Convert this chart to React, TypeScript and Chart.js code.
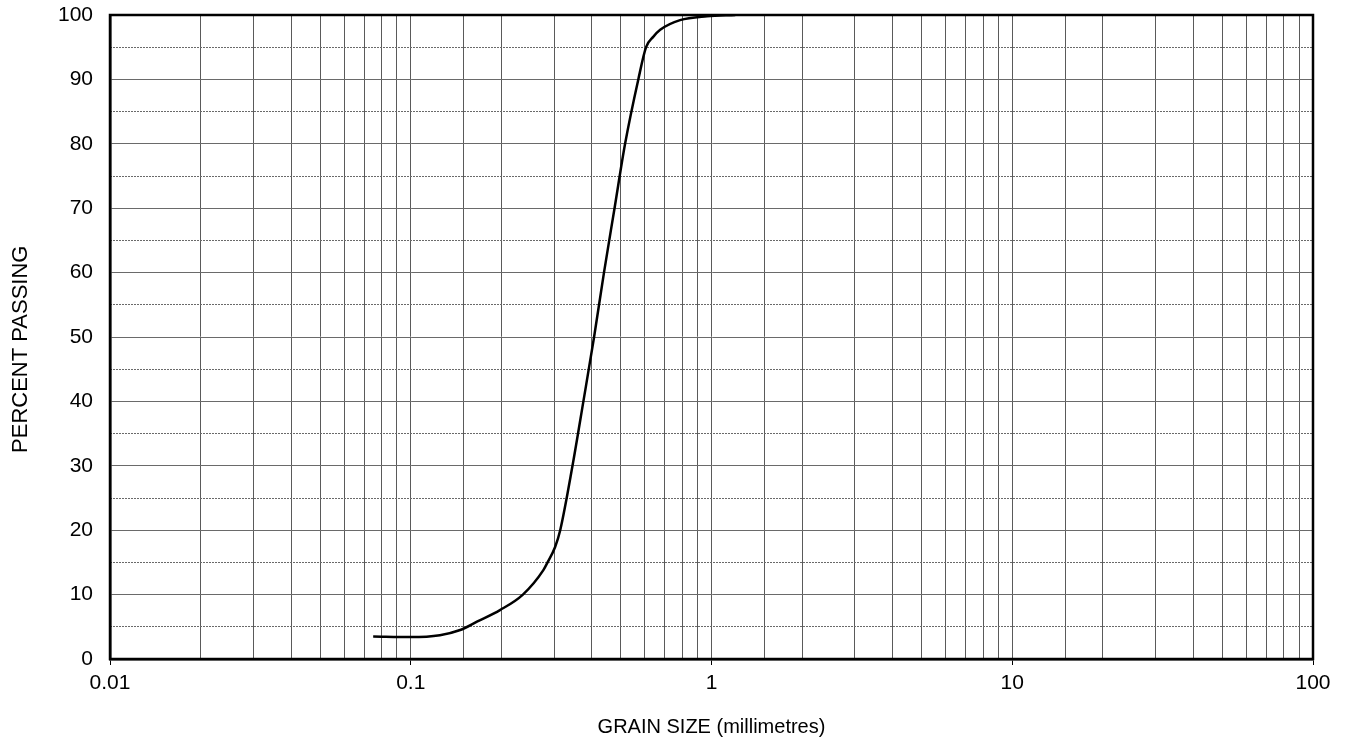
import React, { useEffect, useRef } from "react";
import { Chart, registerables } from "chart.js";

Chart.register(...registerables);

// Grain size distribution (sieve analysis)
const grainSize = [
  0.075, 0.1, 0.125, 0.146, 0.166, 0.198, 0.236, 0.276, 0.285, 0.302, 0.314,
  0.345, 0.375, 0.407, 0.439, 0.476, 0.516, 0.571, 0.606, 0.64, 0.675, 0.786,
  0.966, 1.2,
];
const percentPassing = [
  3.5, 3.4, 3.7, 4.5, 5.8, 7.6, 10.0, 13.8, 15.0, 17.4, 20.0, 30.0, 40.0, 50.0,
  60.0, 70.0, 80.0, 90.0, 95.0, 96.6, 97.7, 99.2, 99.8, 100,
];
const halfGridValues = [5, 15, 25, 35, 45, 55, 65, 75, 85, 95];

const xTitle = "GRAIN SIZE (millimetres)";
const yTitle = "PERCENT PASSING    ";

const FONT = "'Liberation Sans', Arial, sans-serif";

const framePlugin = {
  id: "frame",
  afterDraw(chart: any) {
    const { ctx, chartArea } = chart;
    ctx.save();
    ctx.strokeStyle = "#000";
    ctx.lineWidth = 2.5;
    ctx.strokeRect(
      chartArea.left,
      chartArea.top,
      chartArea.right - chartArea.left,
      chartArea.bottom - chartArea.top
    );
    ctx.restore();
  },
};

export default function App() {
  const ref = useRef<HTMLCanvasElement | null>(null);

  useEffect(() => {
    if (!ref.current) return;
    const points = grainSize.map((x, i) => ({ x, y: percentPassing[i] }));
    const isPow10 = (v: number) =>
      Math.abs(Math.log10(v) - Math.round(Math.log10(v))) < 1e-9;

    const chart = new Chart(ref.current, {
      type: "scatter",
      data: {
        datasets: [
          {
            data: points,
            showLine: true,
            borderColor: "#000",
            borderWidth: 2.5,
            pointRadius: 0,
            fill: false,
            cubicInterpolationMode: "monotone",
          },
        ],
      },
      plugins: [framePlugin],
      options: {
        animation: false,
        responsive: false,
        layout: { padding: { left: 0, top: 15, right: 33, bottom: 0 } },
        plugins: {
          legend: { display: false },
          tooltip: { enabled: false },
        },
        scales: {
          x: {
            type: "logarithmic",
            min: 0.01,
            max: 100,
            afterFit: (s: any) => {
              s.height = 84;
            },
            grid: {
              color: "#5a5a5a",
              lineWidth: 1,
              drawTicks: true,
              tickLength: 6,
              tickColor: (c: any) =>
                c.tick && isPow10(c.tick.value) ? "#000" : "rgba(0,0,0,0)",
            },
            border: { color: "#000", width: 2.5 },
            ticks: {
              autoSkip: false,
              maxRotation: 0,
              padding: 6,
              color: "#000",
              font: { family: FONT, size: 21 },
              callback: (v: any) => (isPow10(Number(v)) ? String(Number(v)) : ""),
            },
            title: {
              display: true,
              text: xTitle,
              color: "#000",
              font: { family: FONT, size: 20 },
              padding: { top: 0, bottom: 4 },
            },
          },
          y: {
            position: "left",
            min: 0,
            max: 100,
            afterFit: (s: any) => {
              s.width = 110;
            },
            grid: {
              color: "#6a6a6a",
              lineWidth: 1,
              drawTicks: true,
              tickLength: 17,
              tickColor: "rgba(0,0,0,0)",
            },
            border: { color: "#000", width: 2.5 },
            ticks: {
              stepSize: 10,
              padding: 0,
              color: "#000",
              font: { family: FONT, size: 21 },
            },
            title: {
              display: true,
              text: yTitle,
              color: "#000",
              font: { family: FONT, size: 22 },
              padding: { top: 8, bottom: 0 },
            },
          },
          y2: {
            position: "left",
            min: 0,
            max: 100,
            afterBuildTicks: (s: any) => {
              s.ticks = halfGridValues.map((value) => ({ value }));
            },
            afterFit: (s: any) => {
              s.width = 0;
            },
            grid: { color: "#6a6a6a", lineWidth: 1, drawTicks: false },
            border: { display: false, dash: [2, 1] },
            ticks: { display: false, padding: 0 },
          },
        },
      } as any,
    });
    return () => chart.destroy();
  }, []);

  return (
    <canvas
      ref={ref}
      width={1346}
      height={743}
      style={{ position: "absolute", left: 0, top: 0, width: 1346, height: 743 }}
    />
  );
}
